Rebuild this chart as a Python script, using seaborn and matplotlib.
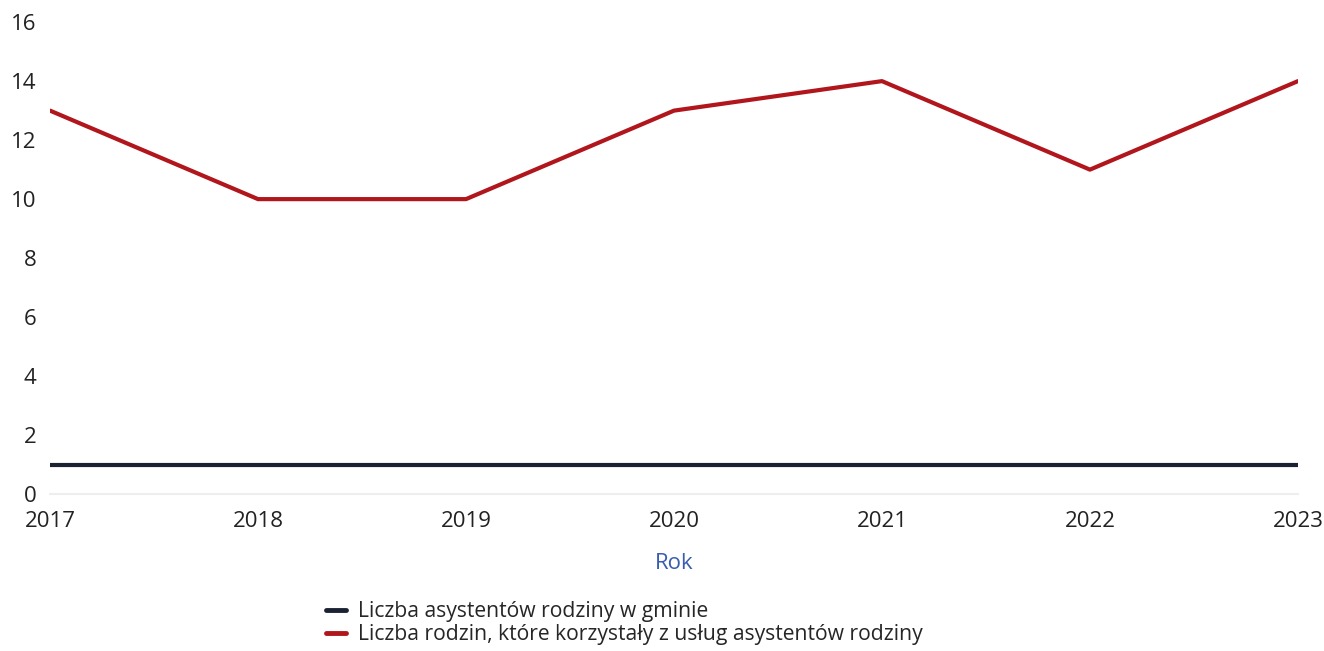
import matplotlib
matplotlib.use("Agg")
import matplotlib.pyplot as plt
import seaborn as sns
import pandas as pd

years = [2017, 2018, 2019, 2020, 2021, 2022, 2023]
assistants = [1, 1, 1, 1, 1, 1, 1]
families = [13, 10, 10, 13, 14, 11, 14]
series_names = [
    "Liczba asystentów rodziny w gminie",
    "Liczba rodzin, które korzystały z usług asystentów rodziny",
]
y_ticks = [0, 2, 4, 6, 8, 10, 12, 14, 16]

df = pd.DataFrame({
    "Rok": years * 2,
    "Wartość": assistants + families,
    "Seria": [series_names[0]] * len(years) + [series_names[1]] * len(years),
})

sns.set_theme(style="white")
plt.rcParams["font.family"] = ["Open Sans", "DejaVu Sans"]

fig = plt.figure(figsize=(13.24, 6.51), dpi=100)
ax = fig.add_axes([0.0378, 0.241, 0.9425, 0.725])

palette = {series_names[0]: "#1b2333", series_names[1]: "#b0161c"}
sns.lineplot(data=df, x="Rok", y="Wartość", hue="Seria", palette=palette,
             linewidth=3, ax=ax)

ax.set_xlim(years[0], years[-1])
ax.set_ylim(0, 16)
ax.set_xticks(years)
ax.set_xticklabels([str(y) for y in years])
ax.set_yticks(y_ticks)
ax.tick_params(axis="both", labelsize=16, colors="#222222", length=0)
ax.tick_params(axis="y", pad=10)
ax.tick_params(axis="x", pad=12)
ax.set_ylabel("")
ax.set_xlabel("Rok", fontsize=16, color="#3a5cb0", labelpad=15)

for side in ["top", "right", "left"]:
    ax.spines[side].set_visible(False)
ax.spines["bottom"].set_color("#eeeeee")
ax.spines["bottom"].set_linewidth(1.5)

handles, labels = ax.get_legend_handles_labels()
ax.get_legend().remove()
leg = fig.legend(handles, labels, loc="upper left",
                 bbox_to_anchor=(326 / 1324, 1 - 601 / 651), frameon=False,
                 fontsize=15.2, handlelength=0.95, handletextpad=0.55,
                 labelspacing=0.1, borderpad=0, borderaxespad=0)
for line in leg.get_lines():
    line.set_linewidth(3.5)

fig.savefig("out.png", dpi=100)
